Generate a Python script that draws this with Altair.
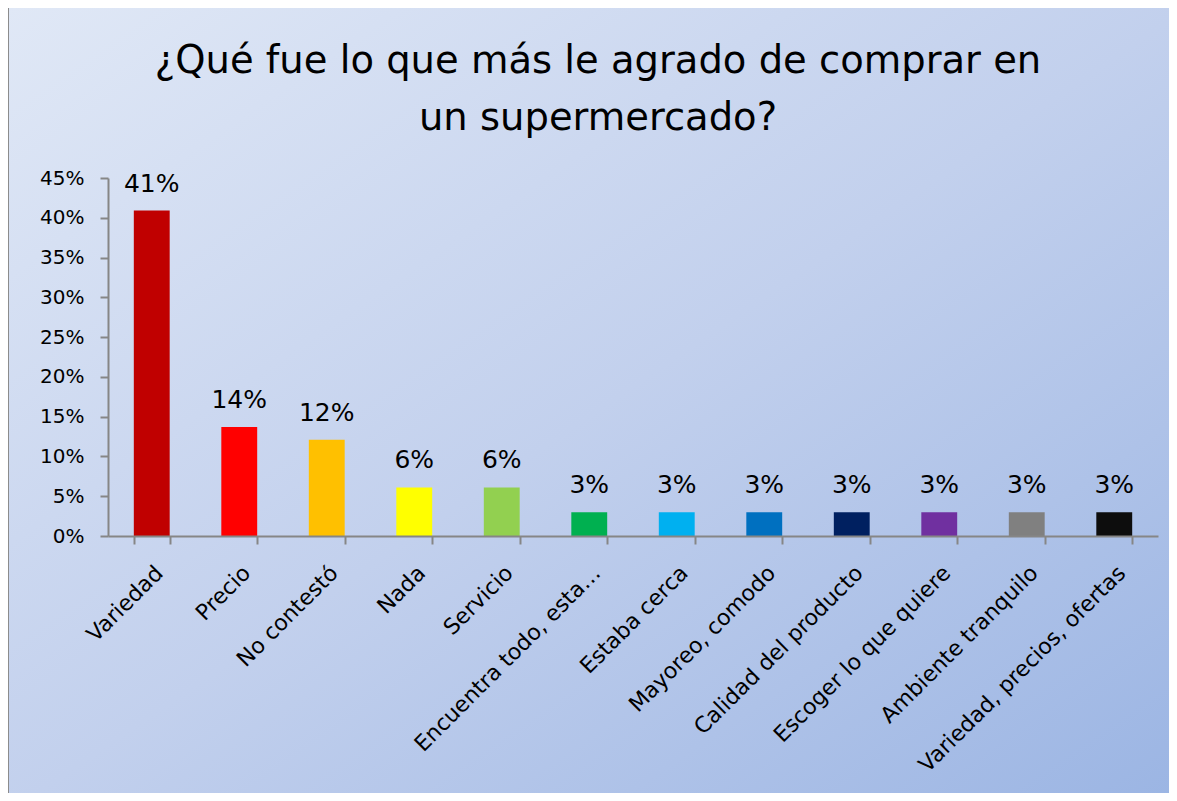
import altair as alt
import pandas as pd

categories = ["Variedad", "Precio", "No contestó", "Nada", "Servicio",
              "Encuentra todo, esta…", "Estaba cerca", "Mayoreo, comodo",
              "Calidad del producto", "Escoger lo que quiere",
              "Ambiente tranquilo", "Variedad, precios, ofertas"]
values = [0.409, 0.137, 0.121, 0.061, 0.061, 0.030, 0.030, 0.030, 0.030, 0.030, 0.030, 0.030]
colors = ["#C00000", "#FF0000", "#FFC000", "#FFFF00", "#92D050", "#00B050",
          "#00B0F0", "#0070C0", "#002060", "#7030A0", "#808080", "#0D0D0D"]
y_ticks = [0, 0.05, 0.10, 0.15, 0.20, 0.25, 0.30, 0.35, 0.40, 0.45]
title_lines = ["¿Qué fue lo que más le agrado de comprar en", "un supermercado?"]

df = pd.DataFrame({"cat": categories, "val": values, "col": colors})

FONT = "DejaVu Sans"
W, H = 1050, 358
PL, PT, PR, PB = 100, 170, 11, 257

bg = alt.Chart(pd.DataFrame({"a": [0]})).mark_rect(
    fill=alt.Gradient(gradient="linear", x1=0, y1=0, x2=1, y2=1,
                      stops=[alt.GradientStop(color="#e0e8f6", offset=0),
                             alt.GradientStop(color="#c2d0ed", offset=0.5),
                             alt.GradientStop(color="#9ab4e3", offset=1)]),
    stroke="#8c8c8c", strokeWidth=2
).encode(
    x=alt.value(-PL), x2=alt.value(W + PR + 20),
    y=alt.value(-PT - 1), y2=alt.value(H + PB + 20)
)

xenc = alt.X("cat:N", sort=categories,
             scale=alt.Scale(paddingInner=0.59, paddingOuter=0.295),
             axis=alt.Axis(title=None, labelAngle=-45, labelFont=FONT, labelFontSize=22,
                           labelColor="#000000", domainColor="#868686", domainWidth=2,
                           tickColor="#868686", tickWidth=2, tickSize=8, tickBand="extent",
                           labelPadding=18, labelLimit=400, labelOverlap=False, zindex=1))
yenc = alt.Y("val:Q", scale=alt.Scale(domain=[0, 0.45], nice=False),
             axis=alt.Axis(title=None, values=y_ticks, format=".0%", grid=False,
                           labelFont=FONT, labelFontSize=20, labelColor="#000000",
                           domainColor="#868686", domainWidth=2, tickColor="#868686",
                           tickWidth=2, tickSize=8, labelPadding=16, labelOverlap=False,
                           zindex=1))

bars = alt.Chart(df).mark_bar().encode(
    x=xenc, y=yenc,
    color=alt.Color("col:N", scale=None, legend=None)
)

labels = alt.Chart(df).mark_text(font=FONT, fontSize=25, baseline="bottom", dy=-14,
                                 color="#000000").encode(
    x=xenc, y=yenc,
    text=alt.Text("val:Q", format=".0%")
)

chart = alt.layer(bg, bars, labels).properties(
    width=W, height=H,
    title=alt.TitleParams(text=title_lines, font=FONT, fontSize=38.5, fontWeight="normal",
                          color="#000000", lineHeight=57, anchor="middle", offset=-132,
                          dx=-35, zindex=1),
    autosize=alt.AutoSizeParams(type="none"),
    padding={"left": PL, "top": PT, "right": PR, "bottom": PB}
).configure_view(stroke=None).configure(background="#ffffff")

chart.save("out.html", embed_options={"renderer": "svg", "actions": False})
